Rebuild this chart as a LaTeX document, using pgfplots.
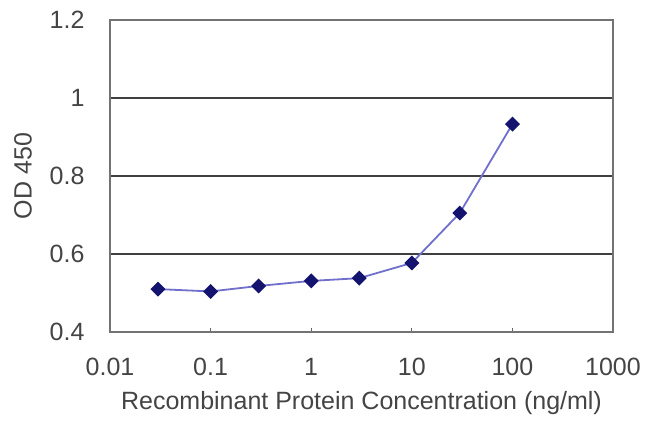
\documentclass[border=0pt]{standalone}
\usepackage{pgfplots}
\pgfplotsset{compat=1.18}
\usepackage{fontspec}
\setmainfont{Liberation Sans}
\definecolor{cLine}{HTML}{7070CC}
\definecolor{cMark}{HTML}{141470}
\definecolor{cText}{HTML}{444444}

\begin{document}
\begin{tikzpicture}[x=1bp,y=1bp]
  \begin{axis}[
      name=main,
      scale only axis,
      width=503bp, height=312bp,
      xmode=log, log basis x=10,
      xmin=0.01, xmax=1000,
      ymin=0.4, ymax=1.2,
      xtick={0.01,0.1,1,10,100,1000},
      xticklabels={0.01,0.1,1,10,100,1000},
      ytick={0.4,0.6,0.8,1.0,1.2},
      yticklabels={0.4,0.6,0.8,1,1.2},
      minor xtick={},
      xtick pos=bottom,
      tick align=inside,
      major tick length=4bp,
      ytick style={draw=none},
      xtick style={black!60, line width=1bp},
      ymajorgrids,
      grid style={black!75, line width=1.3bp},
      axis line style={black!55, line width=1.3bp},
      font=\fontsize{25bp}{28bp}\selectfont,
      ticklabel style={text=cText},
      xticklabel style={yshift=-23bp},
      yticklabel style={xshift=-22bp},
      xlabel={Recombinant Protein Concentration (ng/ml)},
      ylabel={OD 450},
      label style={text=cText},
      xlabel style={at={(axis description cs:0.5,-0.228)}, anchor=center},
      ylabel style={at={(axis description cs:-0.173,0.5)}, anchor=center},
    ]
    \addplot[color=cLine, line width=1.8bp, mark=square*, mark size=4.4bp,
             mark options={fill=cMark, draw=cMark, rotate=45}] coordinates {
      (0.03,0.510) (0.1,0.504) (0.3,0.518) (1,0.531) (3,0.538)
      (10,0.577) (30,0.705) (100,0.933)
    };
  \end{axis}
  \pgfresetboundingbox
  \path[use as bounding box] ([shift={(-110bp,-98bp)}]main.south west) rectangle ([shift={(37bp,20bp)}]main.north east);
\end{tikzpicture}
\end{document}
